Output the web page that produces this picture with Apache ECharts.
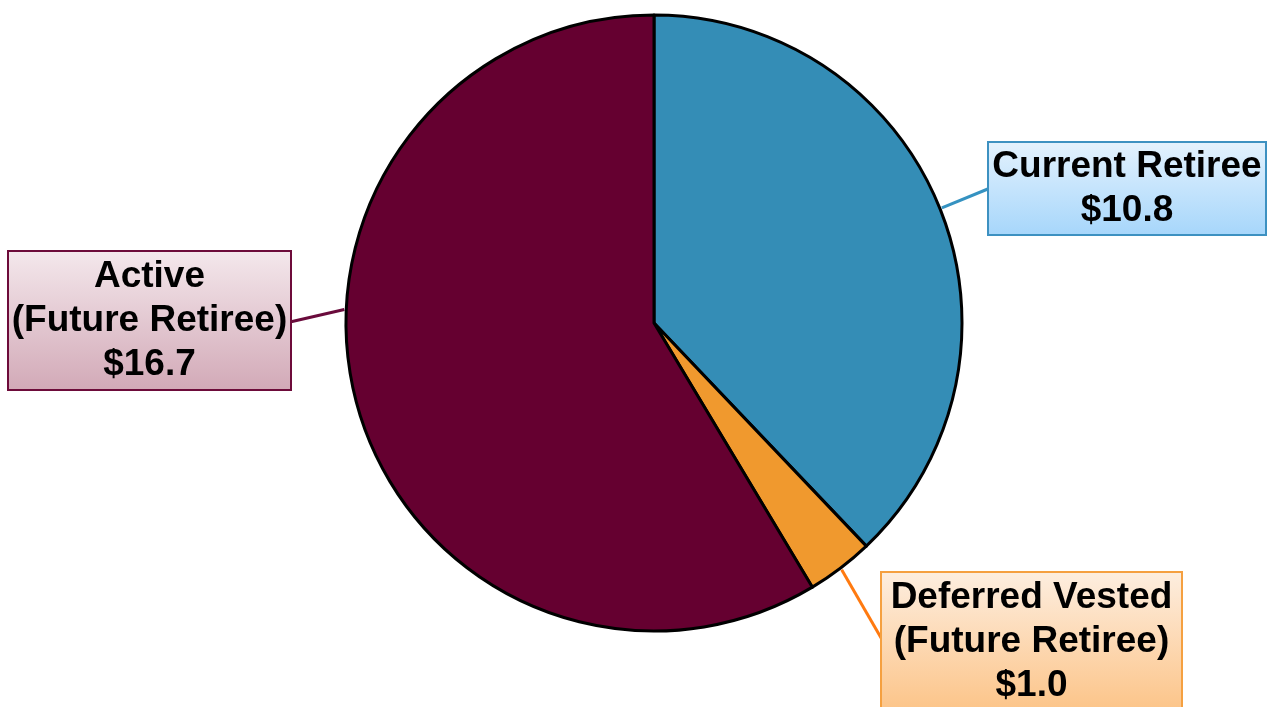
<!DOCTYPE html>
<html>
<head>
<meta charset="utf-8">
<script src="https://cdn.jsdelivr.net/npm/echarts@6/dist/echarts.min.js"></script>
<style>
html,body{margin:0;padding:0;background:#fff;}
#chart{width:1268px;height:707px;}
</style>
</head>
<body>
<div id="chart"></div>
<script>
// Data
const categories = ['Current Retiree', 'Deferred Vested\n(Future Retiree)', 'Active\n(Future Retiree)'];
const values = [10.8, 1.0, 16.7];

// Styles
const sliceColors = ['#348db6', '#f0992e', '#650030'];
const lineColors = ['#3592c1', '#ff7a10', '#6a0b3c'];
const boxBorders = ['#3d91c1', '#f5a040', '#6d0b3a'];
const boxGrad = [['#e4f2fd', '#a6d6fb'], ['#fdeee0', '#fcc488'], ['#f4e8ec', '#d2a9b7']];
const boxCenters = [[1127, 188.5], [1031.5, 641.5], [149.5, 320.5]];
const boxWidths = [276, 299, 281];
const boxHeights = [91, 137, 137];
const cx = 654, cy = 323, R = 308;

const chart = echarts.init(document.getElementById('chart'));
const data = categories.map((c, i) => ({
  name: c,
  value: values[i],
  itemStyle: { color: sliceColors[i] },
  label: {
    formatter: '{b}\n' + '$' + values[i].toFixed(1),
    backgroundColor: new echarts.graphic.LinearGradient(0, 0, 0, 1, [
      { offset: 0, color: boxGrad[i][0] },
      { offset: 1, color: boxGrad[i][1] }
    ]),
    borderColor: boxBorders[i],
    borderWidth: 2,
    width: boxWidths[i] - 6,
    height: boxHeights[i] - 5,
    overflow: 'none',
    padding: [5, 3, 0, 3],
  },
  labelLine: { lineStyle: { color: lineColors[i], width: 3 } }
}));

function pt(deg) {
  const a = (deg - 90) * Math.PI / 180;
  return [cx + (R + 2) * Math.cos(a), cy + (R + 2) * Math.sin(a)];
}

chart.setOption({
  backgroundColor: '#ffffff',
  animation: false,
  series: [{
    type: 'pie',
    center: [cx, cy],
    radius: R,
    startAngle: 90,
    clockwise: true,
    data: data,
    itemStyle: { borderColor: '#000', borderWidth: 3 },
    label: {
      show: true,
      position: 'outside',
      fontFamily: '"Liberation Sans", Arial, sans-serif',
      fontWeight: 'bold',
      fontSize: 37,
      lineHeight: 44,
      color: '#000',
      align: 'center',
      overflow: 'none'
    },
    labelLine: { show: true, length: 20, length2: 20 },
    labelLayout: function (p) {
      const i = p.dataIndex;
      const [bx, by] = boxCenters[i];
      const w = boxWidths[i];
      let start, end;
      const total = values.reduce((a, b) => a + b, 0);
      let acc = 0;
      for (let k = 0; k < i; k++) acc += values[k];
      const mid = (acc + values[i] / 2) / total * 360;
      if (i === 0) { start = pt(mid); end = [bx - w / 2, by]; }
      else if (i === 1) { start = pt(mid); end = [bx - w / 2, by - 2]; }
      else { start = pt(272.5); end = [bx + w / 2, by + 1.5]; }
      return {
        x: bx, y: by, align: 'center', verticalAlign: 'middle',
        labelLinePoints: [start, start, end]
      };
    }
  }]
});
</script>
</body>
</html>
